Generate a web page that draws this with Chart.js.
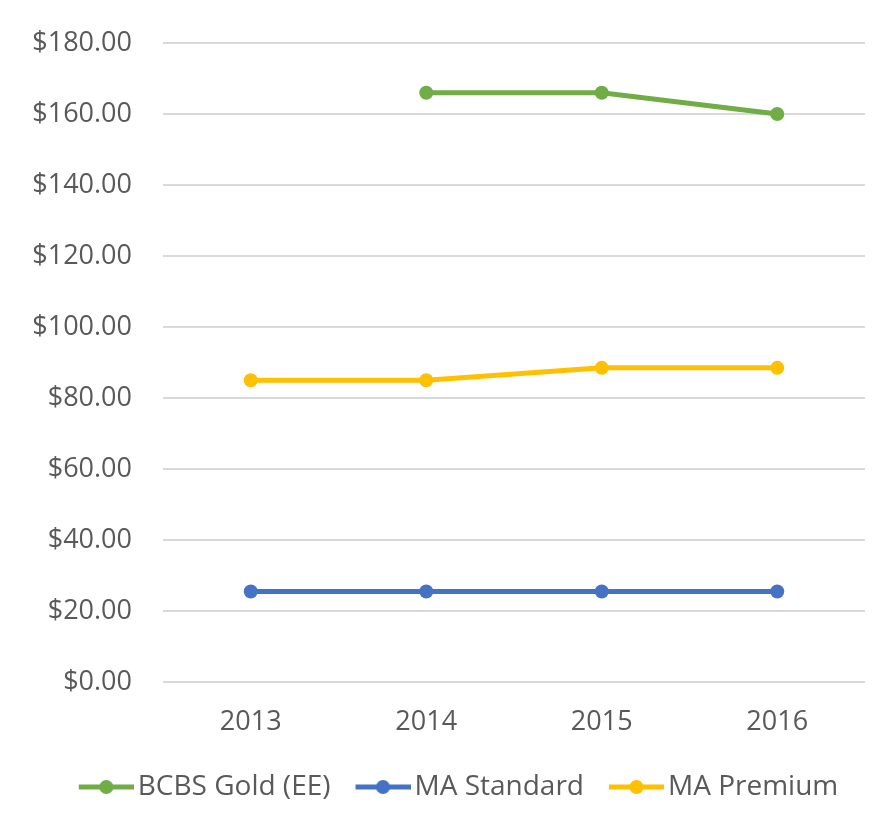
<!DOCTYPE html>
<html>
<head>
<meta charset="utf-8">
<script src="https://cdn.jsdelivr.net/npm/chart.js@4"></script>
<style>
  html, body { margin: 0; padding: 0; background: #fff; }
  #wrap { width: 878px; height: 822px; }
</style>
</head>
<body>
<div id="wrap"><canvas id="chart" width="878" height="822"></canvas></div>
<script>
const years = ["2013", "2014", "2015", "2016"];
const bcbsGold = [null, 166, 166, 160];
const maStandard = [25.5, 25.5, 25.5, 25.5];
const maPremium = [85, 85, 88.5, 88.5];
const yTicks = [0, 20, 40, 60, 80, 100, 120, 140, 160, 180];

const textColor = "#595959";
const fontFamily = "'Open Sans', sans-serif";

// legend marker: line with a dot; 10px clear on the left so the line starts at the box edge
function legendMarker(color) {
  const c = document.createElement("canvas");
  c.width = 65;
  c.height = 16;
  const g = c.getContext("2d");
  g.strokeStyle = color;
  g.lineWidth = 5;
  g.beginPath();
  g.moveTo(10, 8);
  g.lineTo(65, 8);
  g.stroke();
  g.fillStyle = color;
  g.beginPath();
  g.arc(37.5, 8, 7, 0, Math.PI * 2);
  g.fill();
  return c;
}

function series(label, data, color) {
  return {
    label: label,
    data: data,
    borderColor: color,
    backgroundColor: color,
    borderWidth: 5,
    pointRadius: 7,
    pointHoverRadius: 7,
    pointBackgroundColor: color,
    pointBorderWidth: 0,
    tension: 0,
    pointStyle: "circle",
    marker: legendMarker(color)
  };
}

// nudge the legend to the right, like the original
const legendShift = {
  id: "legendShift",
  afterLayout(chart) {
    chart.legend.left += 16;
    chart.legend.right += 16;
  }
};

const ctx = document.getElementById("chart").getContext("2d");
new Chart(ctx, {
  type: "line",
  data: {
    labels: years,
    datasets: [
      series("BCBS Gold (EE)", bcbsGold, "#70AD47"),
      series("MA Standard", maStandard, "#4472C4"),
      series("MA Premium", maPremium, "#FFC000")
    ]
  },
  options: {
    responsive: false,
    animation: false,
    layout: { padding: { left: 20, right: 13, top: 43, bottom: 11 } },
    plugins: {
      tooltip: { enabled: false },
      legend: {
        position: "bottom",
        labels: {
          color: textColor,
          font: { family: fontFamily, size: 28 },
          usePointStyle: true,
          pointStyleWidth: 45,
          padding: 25,
          generateLabels: function (chart) {
            return chart.data.datasets.map((ds, i) => ({
              text: ds.label,
              fontColor: textColor,
              pointStyle: ds.marker,
              datasetIndex: i,
              hidden: false,
              lineWidth: 0
            }));
          }
        }
      }
    },
    scales: {
      x: {
        offset: true,
        grid: { display: false, drawTicks: false },
        border: { display: false },
        ticks: {
          color: textColor,
          font: { family: fontFamily, size: 27 },
          padding: 24
        },
        afterFit: function (scale) { scale.height = 66; }
      },
      y: {
        min: 0,
        max: 180,
        grid: { color: "#d9d9d9", lineWidth: 2, drawTicks: false },
        border: { display: false },
        afterBuildTicks: function (scale) {
          scale.ticks = yTicks.map(v => ({ value: v }));
        },
        ticks: {
          color: textColor,
          font: { family: fontFamily, size: 27 },
          padding: 31,
          callback: function (v) { return "$" + v.toFixed(2); }
        },
        afterFit: function (scale) {
          scale.width = 143;
          scale.paddingTop = 0;
          scale.paddingBottom = 0;
        }
      }
    }
  },
  plugins: [legendShift]
});
</script>
</body>
</html>
